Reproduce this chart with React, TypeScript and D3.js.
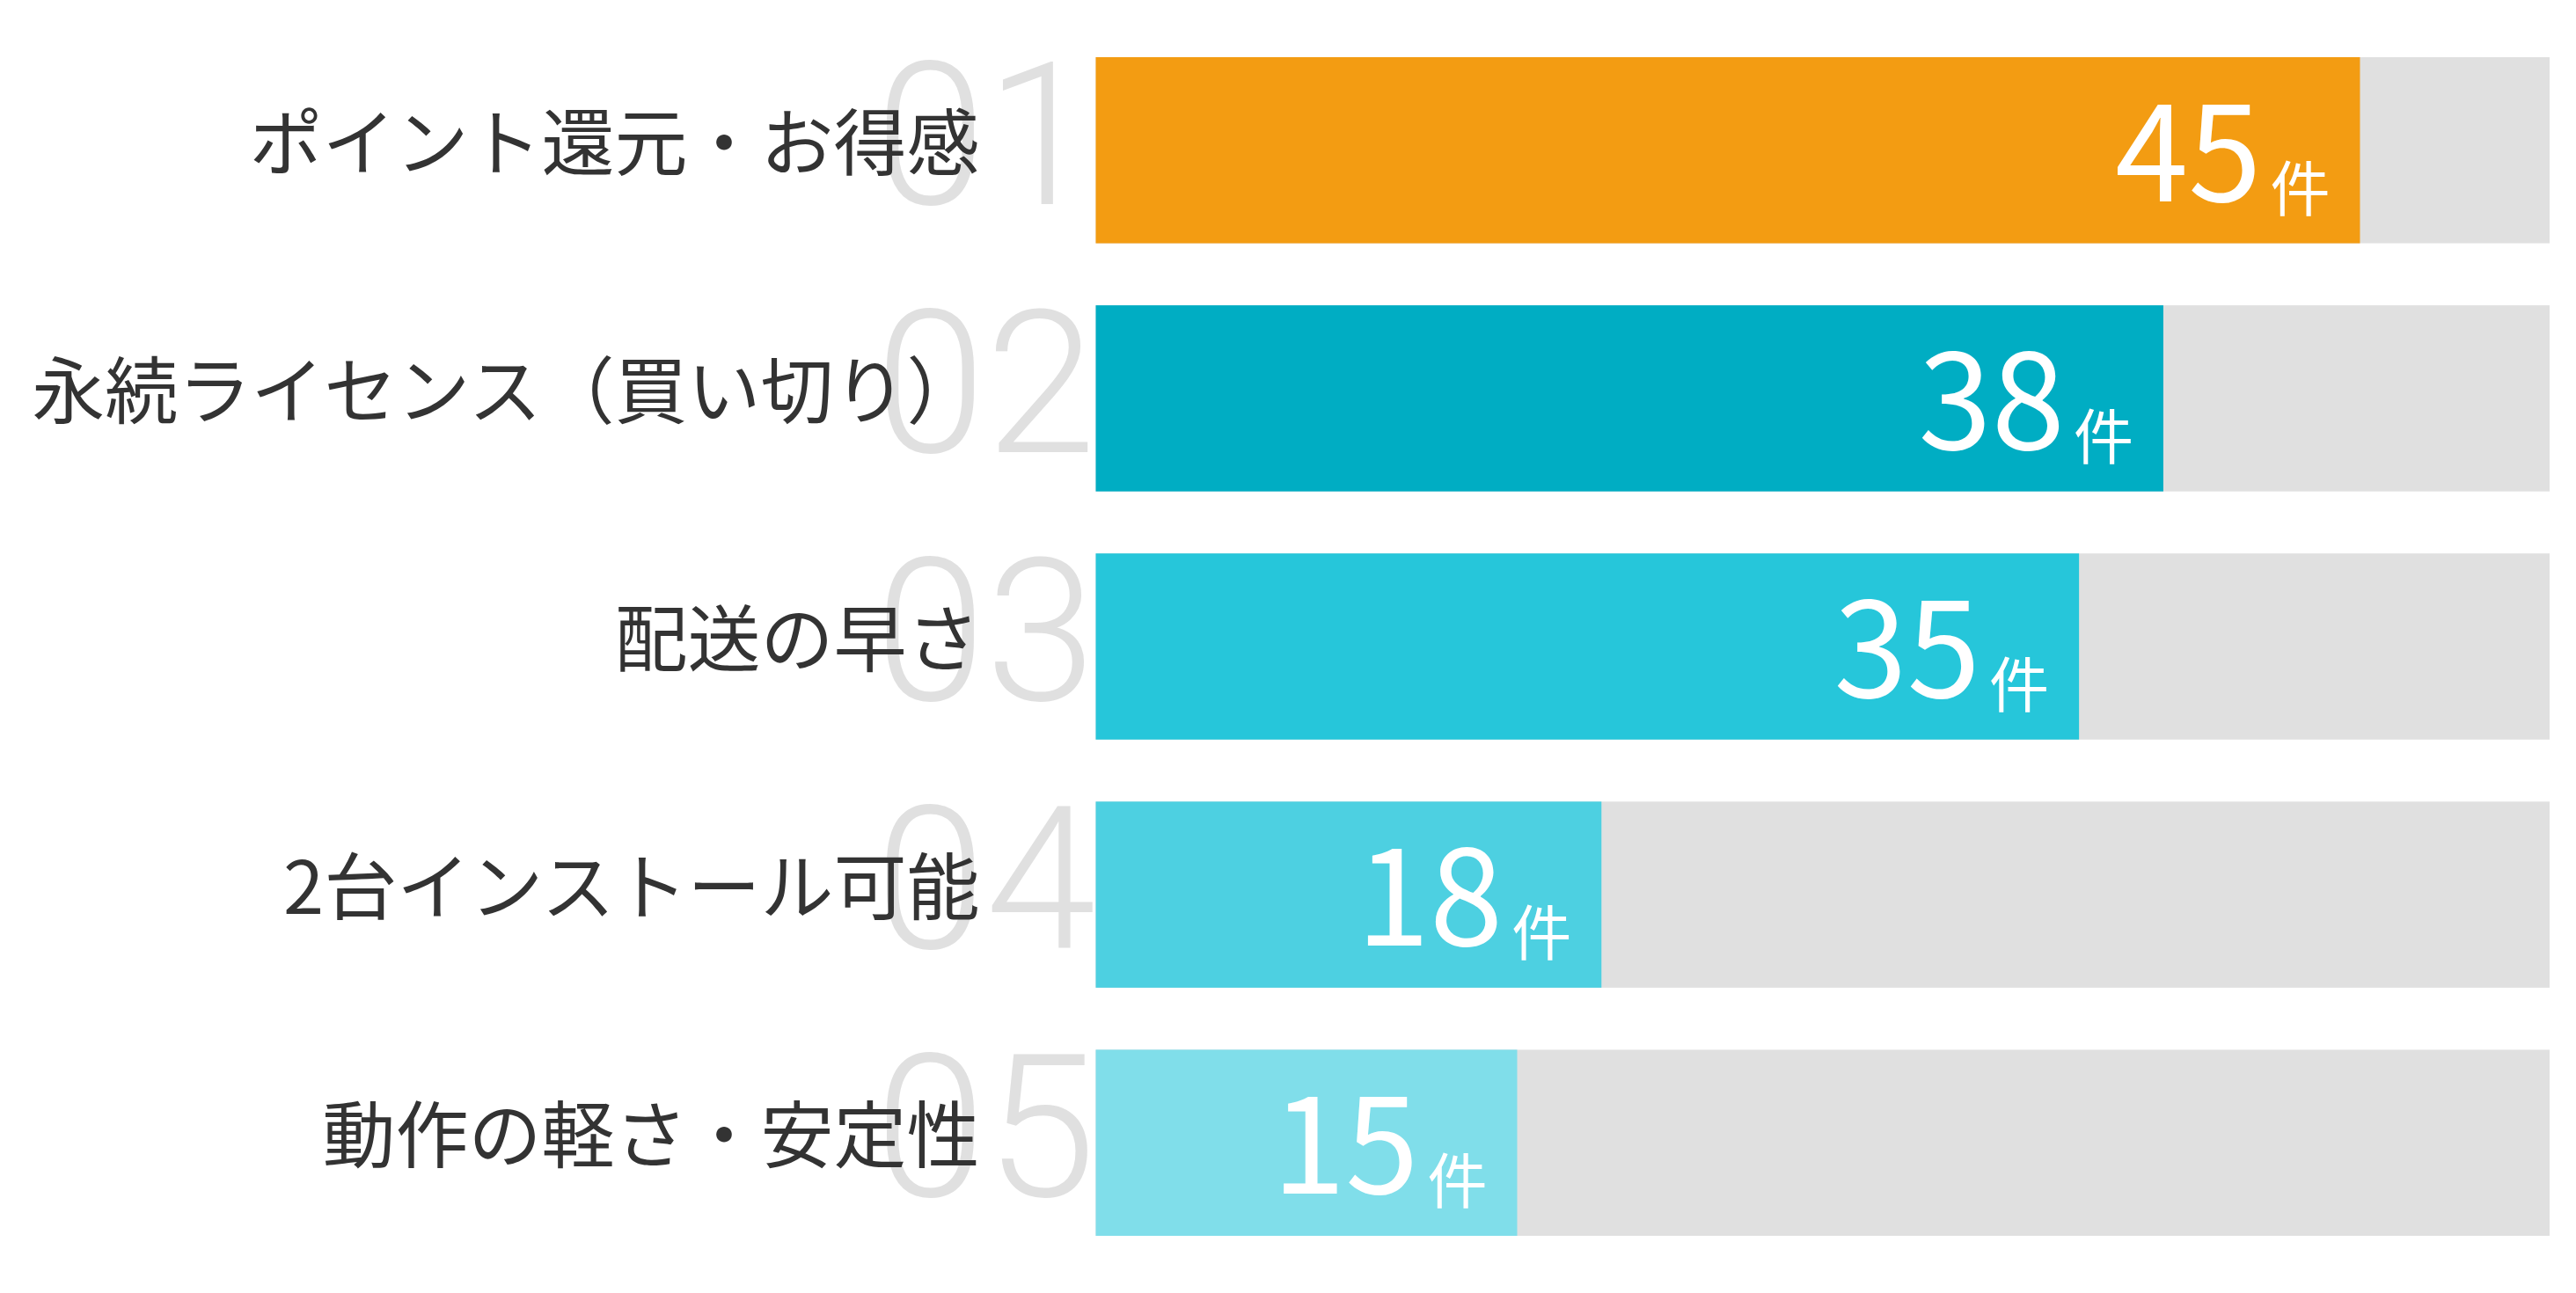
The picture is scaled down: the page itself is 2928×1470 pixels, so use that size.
import React from "react";
import * as d3 from "d3";

const categories = [
  "ポイント還元・お得感",
  "永続ライセンス（買い切り）",
  "配送の早さ",
  "2台インストール可能",
  "動作の軽さ・安定性",
];
const values = [45, 38, 35, 18, 15];
const ranks = ["01", "02", "03", "04", "05"];
const colors = ["#f39c12", "#00adc3", "#26c6da", "#4dd0e1", "#80deea"];
const unit = "件";

const width = 2928;
const height = 1470;

const App: React.FC = () => {
  const x = d3
    .scaleLinear()
    .domain([0, (d3.max(values) || 0) * 1.15])
    .range([1245.5, 2898]);

  const y = d3
    .scaleBand<string>()
    .domain(categories)
    .range([65, 1405])
    .paddingInner(0.25)
    .paddingOuter(0);

  const jp = "'Noto Sans CJK JP', 'Noto Sans', sans-serif";

  return (
    <svg
      width={width}
      height={height}
      style={{ position: "absolute", left: 0, top: 0, background: "#fff" }}
    >
      {categories.map((c, i) => {
        const top = y(c) || 0;
        const cy = top + y.bandwidth() / 2;
        return (
          <g key={c}>
            <rect
              x={x(0)}
              y={top}
              width={x.range()[1] - x(0)}
              height={y.bandwidth()}
              fill="#e0e0e0"
            />
            <text
              x={x(0)}
              y={cy + 61}
              textAnchor="end"
              fontFamily="Roboto, Lato, sans-serif"
              fontWeight={300}
              fontSize={226}
              fill="#e0e0e0"
            >
              {ranks[i]}
            </text>
            <text
              x={x(0) - 132}
              y={cy + 22}
              textAnchor="end"
              fontFamily={jp}
              fontSize={83}
              fill="#333333"
            >
              {c}
            </text>
            <rect
              x={x(0)}
              y={top}
              width={x(values[i]) - x(0)}
              height={y.bandwidth()}
              fill={colors[i]}
            />
            <text
              x={x(values[i]) - 34}
              y={cy + 58}
              textAnchor="end"
              fontFamily={jp}
              fontSize={150}
              fill="#ffffff"
            >
              {values[i]}
              <tspan dx={10} dy={11} fontSize={68}>
                {unit}
              </tspan>
            </text>
          </g>
        );
      })}
    </svg>
  );
};

export default App;
